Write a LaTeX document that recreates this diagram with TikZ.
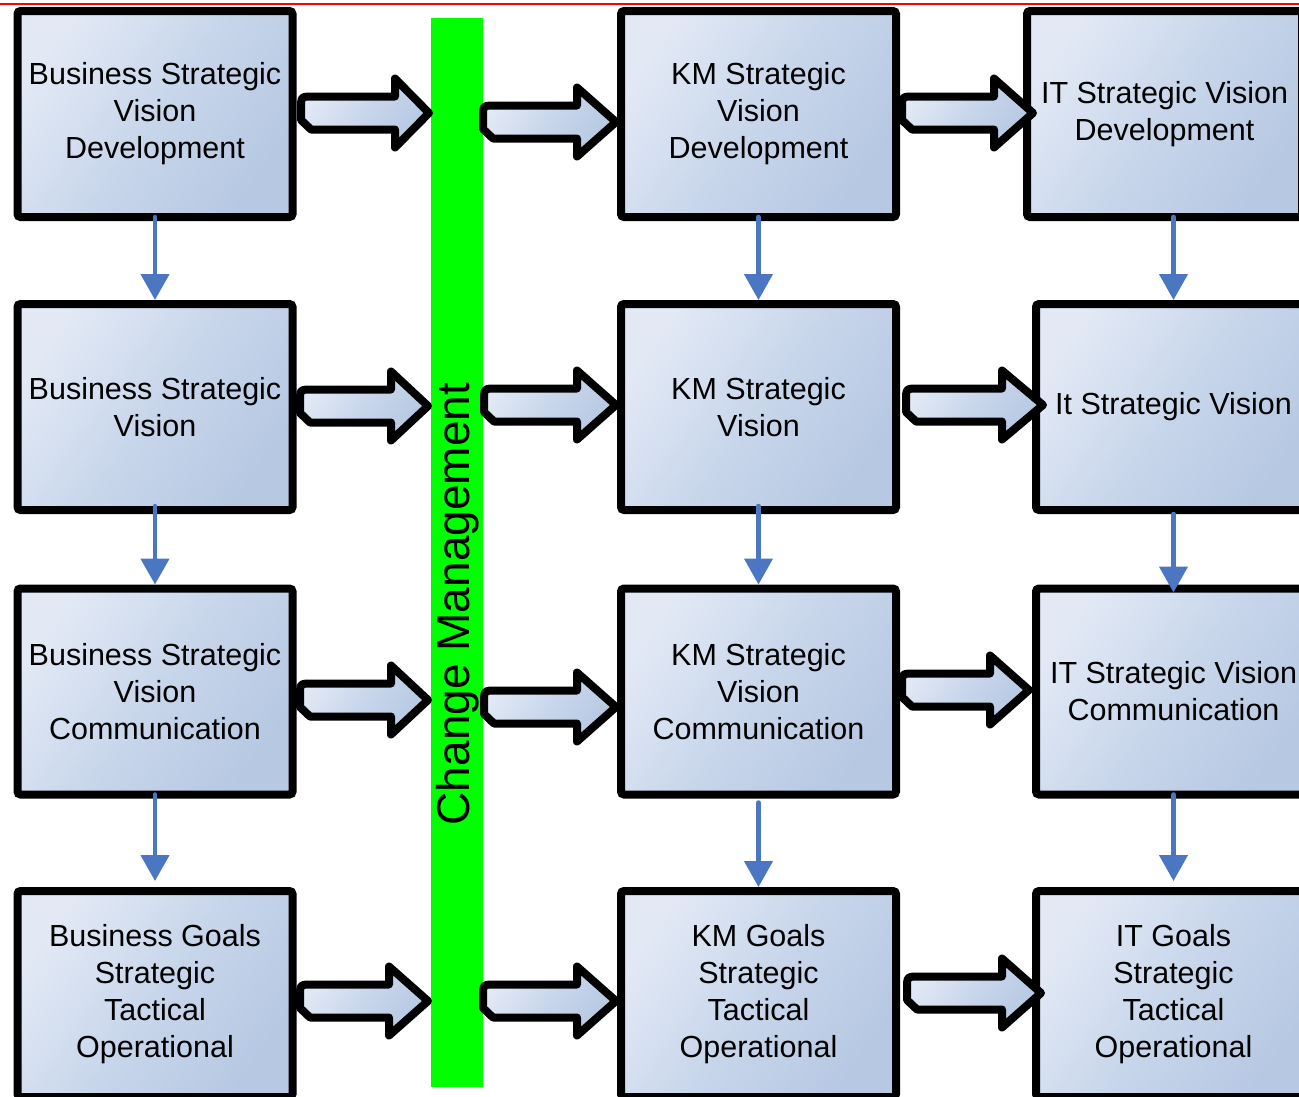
\documentclass[tikz,border=0pt]{standalone}
\usepackage{fontspec}
\setmainfont{Liberation Sans}
\usetikzlibrary{arrows.meta}
\definecolor{boxlight}{HTML}{E2E9F5}
\definecolor{boxmid}{HTML}{C8D6EB}
\definecolor{boxdark}{HTML}{B6C8E2}
\definecolor{cmgreen}{HTML}{00FF00}
\definecolor{flowblue}{HTML}{4A76C2}
\tikzset{
  box/.style={draw=black, line width=8pt, rounded corners=3pt,
    top color=boxlight, bottom color=boxdark, middle color=boxmid, shading angle=55,
    minimum width=275pt, minimum height=206pt, inner sep=0pt,
    align=center, font=\fontsize{30.5}{37}\selectfont},
  barrow/.style={draw=black, line width=8pt, line join=round,
    top color=boxlight, bottom color=boxdark, middle color=boxmid, shading angle=55},
  flow/.style={draw=flowblue, line width=4.5pt, line cap=round,
    -{Triangle[width=28pt,length=26pt]}},
}
\newcommand{\blockarr}[4]{%
  \path[barrow] ({#1+4},{#3-4}) .. controls ({#1+4},{#3-16.5}) .. ({#1+16},{#3-16.5})
    -- ({#2-#4+4},{#3-16.5}) -- ({#2-#4+4},{#3-34.5}) -- ({#2-4},{#3})
    -- ({#2-#4+4},{#3+34.5}) -- ({#2-#4+4},{#3+16.5}) -- ({#1+14},{#3+16.5})
    -- ({#1+4},{#3+7}) -- cycle;}
\begin{document}
\begin{tikzpicture}[x=1pt,y=-1pt]
\useasboundingbox (0,0) rectangle (1299,1096);
\clip (0,0) rectangle (1299,1096);
\draw[red, line width=2pt] (0,4) -- (1299,4);
% change management bar
\node[fill=cmgreen, minimum width=52pt, minimum height=1069pt, inner sep=0pt] (bar) at (457,552.5) {};
% column 1
\node[box] (b1) at (155,114) {Business Strategic\\Vision\\Development};
\node[box] (b2) at (155,407) {Business Strategic\\Vision};
\node[box] (b3) at (155,691.5) {Business Strategic\\Vision\\Communication};
\node[box] (b4) at (155,994) {Business Goals\\Strategic\\Tactical\\Operational};
% column 2
\node[box] (k1) at (758.5,114) {KM Strategic\\Vision\\Development};
\node[box] (k2) at (758.5,407) {KM Strategic\\Vision};
\node[box] (k3) at (758.5,691.5) {KM Strategic\\Vision\\Communication};
\node[box] (k4) at (758.5,994) {KM Goals\\Strategic\\Tactical\\Operational};
% column 3
\node[box] (i1) at (1164.5,114) {IT Strategic Vision\\Development};
\node[box] (i2) at (1173.5,407) {It Strategic Vision};
\node[box] (i3) at (1173.5,691.5) {IT Strategic Vision\\Communication};
\node[box] (i4) at (1173.5,994) {IT Goals\\Strategic\\Tactical\\Operational};
% vertical flow arrows
\draw[flow] ([yshift=4pt]b1.south) -- (b2.north);
\draw[flow] ([yshift=8pt]b2.south) -- (b3.north);
\draw[flow] ([yshift=4pt]b3.south) -- ([yshift=6pt]b4.north);
\draw[flow] ([yshift=4pt]k1.south) -- (k2.north);
\draw[flow] ([yshift=8pt]k2.south) -- (k3.north);
\draw[flow] ([yshift=-4pt]k3.south) -- (k4.north);
\draw[flow] ([yshift=4pt]i2.north |- i1.south) -- (i2.north);
\draw[flow] (i3.north |- i2.south) -- ([yshift=-8pt]i3.north);
\draw[flow] ([yshift=4pt]i4.north |- i3.south) -- ([yshift=6pt]i4.north);
% block arrows
\blockarr{297}{433}{113}{42}
\blockarr{479}{620}{122}{47}
\blockarr{898}{1037}{113}{47}
\blockarr{296}{432}{406}{45}
\blockarr{480}{620}{405}{47}
\blockarr{902}{1047}{405}{49}
\blockarr{296}{432}{700}{45}
\blockarr{480}{620}{707}{47}
\blockarr{898}{1033}{690}{47}
\blockarr{296}{432}{1001}{47}
\blockarr{479}{620}{1001}{47}
\blockarr{903}{1045}{993}{47}
\node[rotate=90, font=\fontsize{46}{50}\selectfont, inner sep=0pt] (cmtext) at (458,604) {Change Management};
\end{tikzpicture}
\end{document}
